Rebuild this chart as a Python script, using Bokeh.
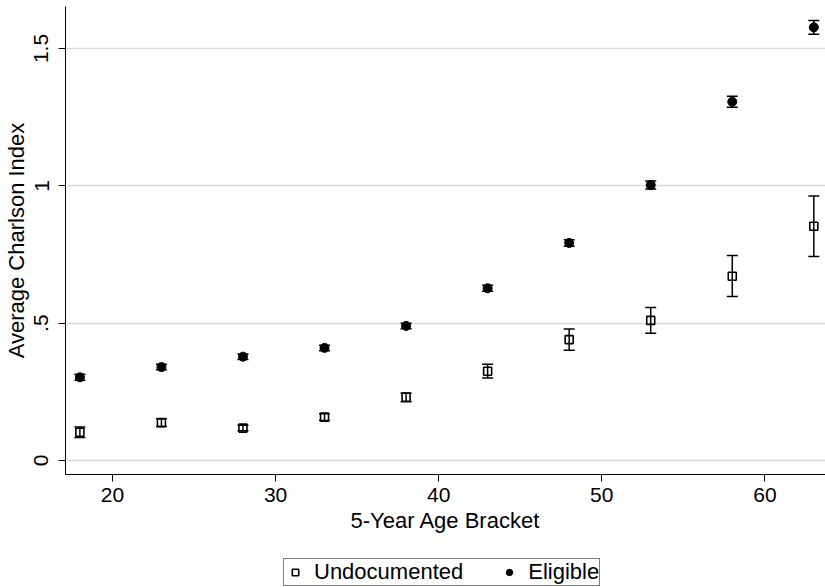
import numpy as np
from bokeh.plotting import figure
from bokeh.models import (ColumnDataSource, Whisker, TeeHead, FixedTicker,
                          Legend, LegendItem, Range1d)
from bokeh.layouts import column
from bokeh.embed import file_html
from bokeh.resources import INLINE

# ---- data ----
age = [18, 23, 28, 33, 38, 43, 48, 53, 58, 63]

eligible = [0.303, 0.340, 0.378, 0.410, 0.490, 0.627, 0.792, 1.003, 1.306, 1.577]
eligible_lo = [0.292, 0.330, 0.368, 0.400, 0.480, 0.616, 0.780, 0.988, 1.286, 1.552]
eligible_hi = [0.314, 0.350, 0.388, 0.420, 0.500, 0.638, 0.804, 1.018, 1.326, 1.602]

undocumented = [0.103, 0.138, 0.118, 0.158, 0.230, 0.325, 0.440, 0.510, 0.671, 0.853]
undocumented_lo = [0.084, 0.124, 0.108, 0.146, 0.214, 0.300, 0.401, 0.463, 0.597, 0.743]
undocumented_hi = [0.122, 0.152, 0.128, 0.170, 0.246, 0.350, 0.479, 0.557, 0.746, 0.963]

series_labels = ["Undocumented", "Eligible"]

x_ticks = [20, 30, 40, 50, 60]
y_ticks = [0, 0.5, 1, 1.5]
y_tick_labels = ["0", ".5", "1", "1.5"]

FONT = "Liberation Sans"
TICK_FS = "21px"
FS = "22px"

src_e = ColumnDataSource(dict(age=age, y=eligible, lo=eligible_lo, hi=eligible_hi))
src_u = ColumnDataSource(dict(age=age, y=undocumented, lo=undocumented_lo, hi=undocumented_hi))

p = figure(width=825, height=545,
           x_range=Range1d(17.118, 63.716), y_range=Range1d(-0.051, 1.6529),
           output_backend="svg", toolbar_location=None,
           min_border_left=65, min_border_right=0, min_border_top=6,
           min_border_bottom=71)
p.outline_line_color = None
p.background_fill_color = "white"
p.border_fill_color = "white"

p.xgrid.visible = False
p.ygrid.grid_line_color = "#d9d9d9"
p.ygrid.grid_line_width = 1.5
p.ygrid.ticker = FixedTicker(ticks=y_ticks)

p.xaxis.ticker = FixedTicker(ticks=x_ticks)
p.yaxis.ticker = FixedTicker(ticks=y_ticks)
p.yaxis.major_label_overrides = {t: l for t, l in zip(y_ticks, y_tick_labels)}
p.yaxis.major_label_orientation = "vertical"

for ax in (p.xaxis, p.yaxis):
    ax.axis_line_color = "black"
    ax.axis_line_width = 1
    ax.major_tick_line_color = "black"
    ax.major_tick_line_width = 1
    ax.major_tick_out = 7
    ax.major_tick_in = 0
    ax.minor_tick_line_color = None
    ax.major_label_text_font = FONT
    ax.major_label_text_font_size = TICK_FS
    ax.major_label_text_color = "black"
    ax.axis_label_text_font = FONT
    ax.axis_label_text_font_size = FS
    ax.axis_label_text_font_style = "normal"
    ax.axis_label_text_color = "black"

p.xaxis.axis_label = "5-Year Age Bracket"
p.yaxis.axis_label = "Average Charlson Index"
p.xaxis.major_label_standoff = 6
p.xaxis.axis_label_standoff = 3
p.yaxis.major_label_standoff = 10
p.yaxis.axis_label_standoff = 3

for src in (src_u, src_e):
    w = Whisker(source=src, base="age", lower="lo", upper="hi", dimension="height",
                line_color="black", line_width=1.5,
                upper_head=TeeHead(size=11, line_color="black", line_width=1.5),
                lower_head=TeeHead(size=11, line_color="black", line_width=1.5))
    p.add_layout(w)

sq_style = dict(marker="square", fill_color=None, line_color="black", line_width=1.6)
ci_style = dict(marker="circle", fill_color="black", line_color="black", line_width=1)

p.scatter("age", "y", source=src_u, size=8, **sq_style)
p.scatter("age", "y", source=src_e, size=9, **ci_style)

# ---- legend strip below the chart (key glyphs have no drawable point) ----
lg = figure(width=825, height=42, x_range=Range1d(0, 1), y_range=Range1d(0, 1),
            output_backend="svg", toolbar_location=None,
            x_axis_location=None, y_axis_location=None, min_border=0)
lg.outline_line_color = None
lg.grid.visible = False
lg.background_fill_color = "white"
lg.border_fill_color = "white"
k_u = lg.scatter(x=[np.nan], y=[np.nan], size=8, **sq_style)
k_e = lg.scatter(x=[np.nan], y=[np.nan], size=9, **ci_style)

legend = Legend(items=[LegendItem(label=series_labels[0], renderers=[k_u], index=0),
                       LegendItem(label=series_labels[1], renderers=[k_e], index=0)],
                orientation="horizontal", location=(218, 1),
                border_line_color="black", border_line_width=1,
                background_fill_color="white", background_fill_alpha=1,
                padding=0, spacing=35, margin=0,
                glyph_width=22, glyph_height=16, label_standoff=8,
                label_height=18,
                label_text_font=FONT, label_text_font_size=FS,
                label_text_color="black")
lg.add_layout(legend)

open("out.html", "w").write(file_html(column(p, lg, spacing=0), INLINE))
